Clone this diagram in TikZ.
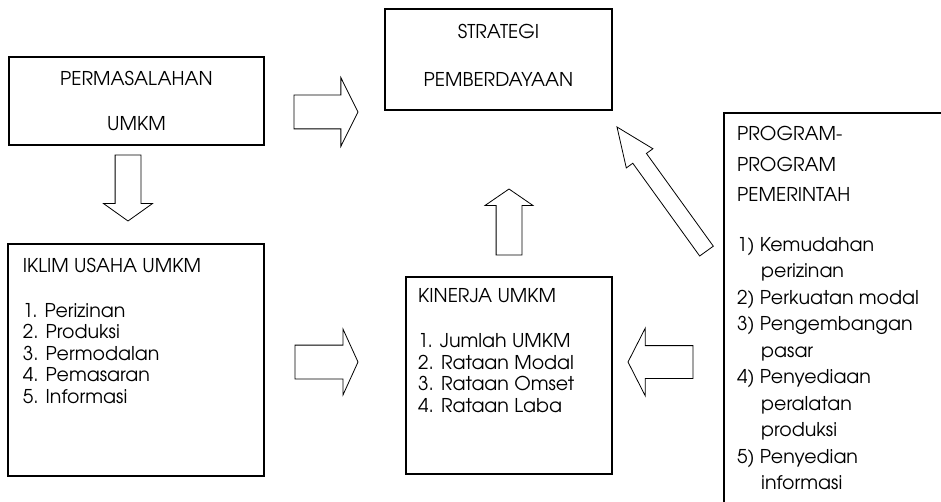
\documentclass[tikz,border=0pt]{standalone}
\usepackage{fontspec}
\setmainfont{TeX Gyre Adventor}
\usetikzlibrary{positioning,shapes.arrows}

\begin{document}
\begin{tikzpicture}[x=1pt,y=-1pt,
box/.style={
	% The shape:
	rectangle,anchor=north west,inner sep=0pt,outer sep=0pt,
	% The border:
	draw=black,line width=2.4pt,
	% Font
	align=center},
listtext/.style={
	anchor=north west,inner sep=0pt,align=left,
	font=\fontsize{19}{21.5}\selectfont},
blockarrow/.style={
	% The shape:
	single arrow,anchor=tip,inner xsep=0pt,outer sep=0pt,
	minimum width=1pt,single arrow head indent=0pt,
	% The border:
	draw=black,line width=0.8pt,fill=white,line join=miter}]

\useasboundingbox (0,0) rectangle (941,502);
\clip (0,0) rectangle (941,502);

% the boxes
\node (perm) [box,minimum width=255pt,minimum height=88pt,
	font=\fontsize{19}{45.6}\selectfont] at (9,57) {PERMASALAHAN\\UMKM};
\node (strat) [box,minimum width=227pt,minimum height=101pt,text depth=8pt,
	font=\fontsize{19}{47.7}\selectfont] at (385,9) {STRATEGI\\PEMBERDAYAAN};
\node (iklim) [box,minimum width=256pt,minimum height=232pt] at (8,244) {};
\node (kin) [box,minimum width=206pt,minimum height=197pt] at (406,277) {};
\node (prog) [box,minimum width=300pt,minimum height=420pt] at (724,113) {};

% the texts in the boxes
\node (iklimtext) [listtext] at (22.7,257.6) {IKLIM USAHA UMKM\\[23.5pt]
	1. Perizinan\\
	2. Produksi\\
	3. Permodalan\\
	4. Pemasaran\\
	5. Informasi};
\node (kintext) [listtext] at (418,288.6) {KINERJA UMKM\\[23.5pt]
	1. Jumlah UMKM\\
	2. Rataan Modal\\
	3. Rataan Omset\\
	4. Rataan Laba};
\node (progtext) [listtext,font=\fontsize{19}{26.5}\selectfont] at (737,125.9) {PROGRAM-\\[4.2pt]
	PROGRAM\\[4.2pt]
	PEMERINTAH\\[22.8pt]
	1) Kemudahan\\
	\hspace*{24pt}perizinan\\
	2) Perkuatan modal\\
	3) Pengembangan\\
	\hspace*{24pt}pasar\\
	4) Penyediaan\\
	\hspace*{24pt}peralatan\\
	\hspace*{24pt}produksi\\
	5) Penyedian\\
	\hspace*{24pt}informasi};

% the block arrows
\node (permtostrat) [blockarrow,minimum height=64pt,inner ysep=16.5pt,
	single arrow head extend=17.5pt,single arrow tip angle=127] at (358,112) {};
\node (permtoiklim) [blockarrow,rotate=-90,minimum height=66pt,inner ysep=12.5pt,
	single arrow head extend=11.5pt,single arrow tip angle=109] at (128,221) {};
\node (iklimtokin) [blockarrow,minimum height=63pt,inner ysep=16.5pt,
	single arrow head extend=16pt,single arrow tip angle=131] at (358,362) {};
\node (progtokin) [blockarrow,rotate=180,minimum height=65pt,inner ysep=16pt,
	single arrow head extend=17.5pt,single arrow tip angle=126] at (628,362) {};
\node (kintostrat) [blockarrow,rotate=90,minimum height=66pt,inner ysep=12.5pt,
	single arrow head extend=11pt,single arrow tip angle=111] at (509,189) {};
\node (progtostrat) [blockarrow,rotate=125.8,minimum height=153pt,inner ysep=8pt,
	single arrow head extend=8pt,single arrow tip angle=46] at (617,127) {};

\end{tikzpicture}
\end{document}
